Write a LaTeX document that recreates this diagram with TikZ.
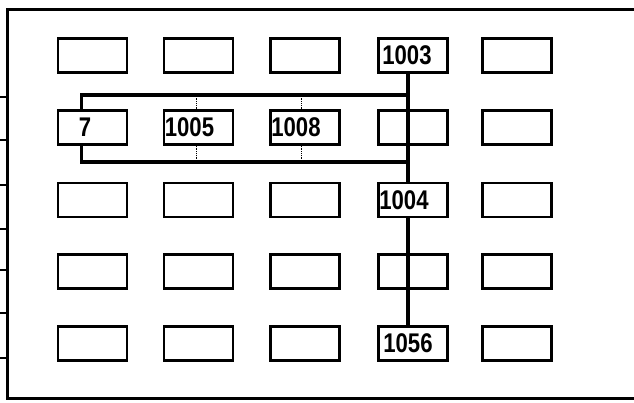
\documentclass[tikz,border=0pt]{standalone}
\usepackage{fontspec}
\setmainfont{Liberation Sans}
\usetikzlibrary{positioning, calc}

\begin{document}
\begin{tikzpicture}[x=1pt, y=-1pt, font=\fontsize{27}{27}\selectfont\bfseries,
    cell/.style={draw, line width=2.6pt, minimum width=69pt, minimum height=34pt, inner sep=0pt},
    lbl/.style={anchor=west, inner sep=0pt, xscale=0.82, transform shape},
    link/.style={line width=3.6pt},
    tickline/.style={line width=0.8pt, densely dotted}]
    \useasboundingbox (0,0) rectangle (634,403);

    % Frame
    \draw[line width=3pt] (634,10) -- (7,10) -- (7,398) -- (634,398);
    \foreach \y in {97,140,185,229,270,313,358}
        \draw[line width=2pt] (0,\y) -- (7,\y);

    % Grid of boxes
    \foreach \c/\x in {1/92.5,2/198.5,3/305,4/413,5/517}
        \foreach \r/\y in {1/55.5,2/127.5,3/200,4/271.5,5/343.5}
            \node[cell] (b\c\r) at (\x,\y) {};

    % Labels
    \node[lbl] at ([xshift=5pt]b41.west) {1003};
    \node[lbl] at ([xshift=22pt]b12.west) {7};
    \node[lbl] at ([xshift=2pt]b22.west) {1005};
    \node[lbl] at ([xshift=2pt]b32.west) {1008};
    \node[lbl] at ([xshift=2pt]b43.west) {1004};
    \node[lbl] at ([xshift=6pt]b45.west) {1056};

    % Connectors
    \coordinate (upJ) at (408,95);
    \coordinate (loJ) at (408,162);
    \draw[link] ([xshift=-5pt]b41.south) -- ([xshift=-5pt]b43.north);
    \draw[link] ([xshift=-5pt]b43.south) -- ([xshift=-5pt]b45.north);
    \draw[link] (upJ) -| ([xshift=-11pt]b12.north);
    \draw[link] (loJ) -| ([xshift=-11pt]b12.south);

    % Faint taps to 1005 and 1008
    \draw[tickline] ([xshift=-2pt]b22.north) -- ([xshift=-2pt]b22.north |- upJ);
    \draw[tickline] ([xshift=-4pt]b32.north) -- ([xshift=-4pt]b32.north |- upJ);
    \draw[tickline] ([xshift=-2pt]b22.south) -- ([xshift=-2pt]b22.south |- loJ);
    \draw[tickline] ([xshift=-4pt]b32.south) -- ([xshift=-4pt]b32.south |- loJ);
\end{tikzpicture}
\end{document}
